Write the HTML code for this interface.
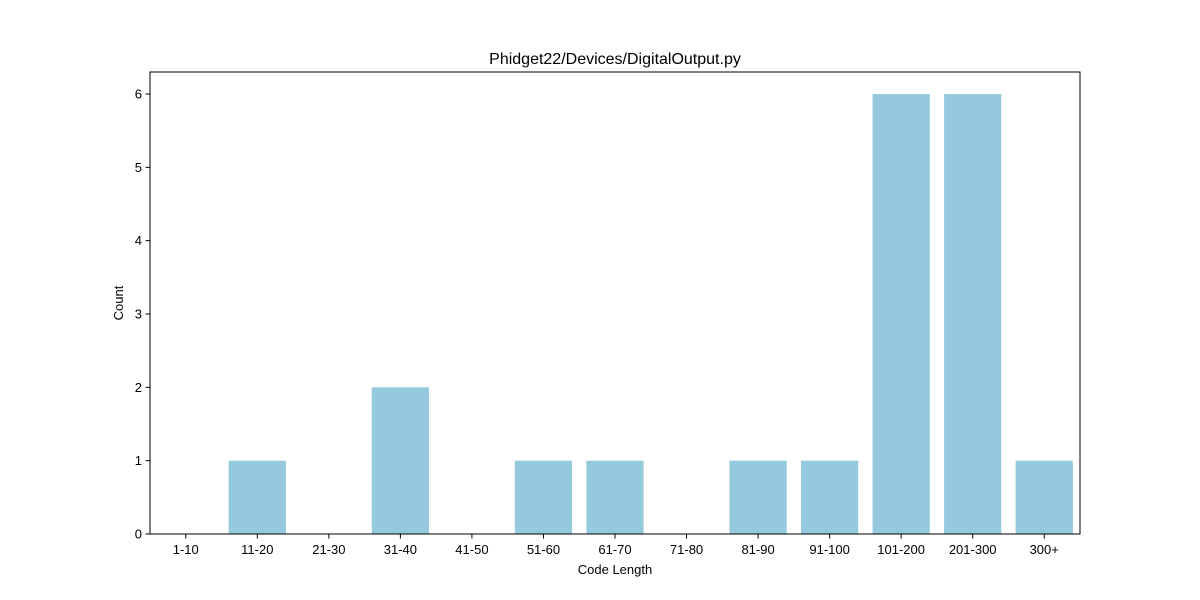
<!DOCTYPE html>
<html><head><meta charset="utf-8"><style>
html,body{margin:0;padding:0;background:#fff;}
svg{display:block;font-family:"Liberation Sans",sans-serif;}
</style></head><body>
<svg id="chart" width="1200" height="600" viewBox="0 0 1200 600"></svg>
<script>
const categories = ["1-10","11-20","21-30","31-40","41-50","51-60","61-70","71-80","81-90","91-100","101-200","201-300","300+"];
const counts = [0,1,0,2,0,1,1,0,1,1,6,6,1];
const yTicks = [0,1,2,3,4,5,6];

const NS = "http://www.w3.org/2000/svg";
const svg = document.getElementById("chart");
const L = 150, R = 1080, T = 72, B = 534;
const yMax = 6.3;
const n = categories.length;
const band = (R - L) / n;
function xPos(i){ return L + band * (i + 0.5); }
function yPos(v){ return B - (v / yMax) * (B - T); }
function mk(tag, attrs, text){
  const e = document.createElementNS(NS, tag);
  for (const k in attrs) e.setAttribute(k, attrs[k]);
  if (text !== undefined) e.textContent = text;
  svg.appendChild(e);
  return e;
}

counts.forEach((v, i) => {
  const w = band * 0.8;
  const r = mk("rect", {x: xPos(i) - w/2, y: yPos(v), width: w, height: B - yPos(v), fill: "#95c9dd"});
  
  
});

const frame = mk("rect", {x: L, y: T, width: R - L, height: B - T, fill: "none", stroke: "#000", "stroke-width": 1});



categories.forEach((c, i) => {
  const x = xPos(i);
  const tk = mk("line", {x1: x, x2: x, y1: B, y2: B + 4.5, stroke: "#000", "stroke-width": 1});
  
  
  const t = mk("text", {x: x, y: B + 20, "text-anchor": "middle", "font-size": 13, fill: "#000"}, c);
  
  
});

yTicks.forEach(v => {
  const y = yPos(v);
  const tk = mk("line", {x1: L - 4.5, x2: L, y1: y, y2: y, stroke: "#000", "stroke-width": 1});
  
  
  const t = mk("text", {x: L - 8, y: y + 4.5, "text-anchor": "end", "font-size": 13, fill: "#000"}, String(v));
  
  
});

const title = mk("text", {x: (L + R) / 2, y: 64, "text-anchor": "middle", "font-size": 16, fill: "#000"}, "Phidget22/Devices/DigitalOutput.py");



const xt = mk("text", {x: (L + R) / 2, y: 574, "text-anchor": "middle", "font-size": 13, fill: "#000"}, "Code Length");



const yt = mk("text", {x: 123, y: (T + B) / 2, "text-anchor": "middle", "font-size": 13, fill: "#000", transform: "rotate(-90 123 " + ((T + B) / 2) + ")"}, "Count");


</script>
</body></html>
